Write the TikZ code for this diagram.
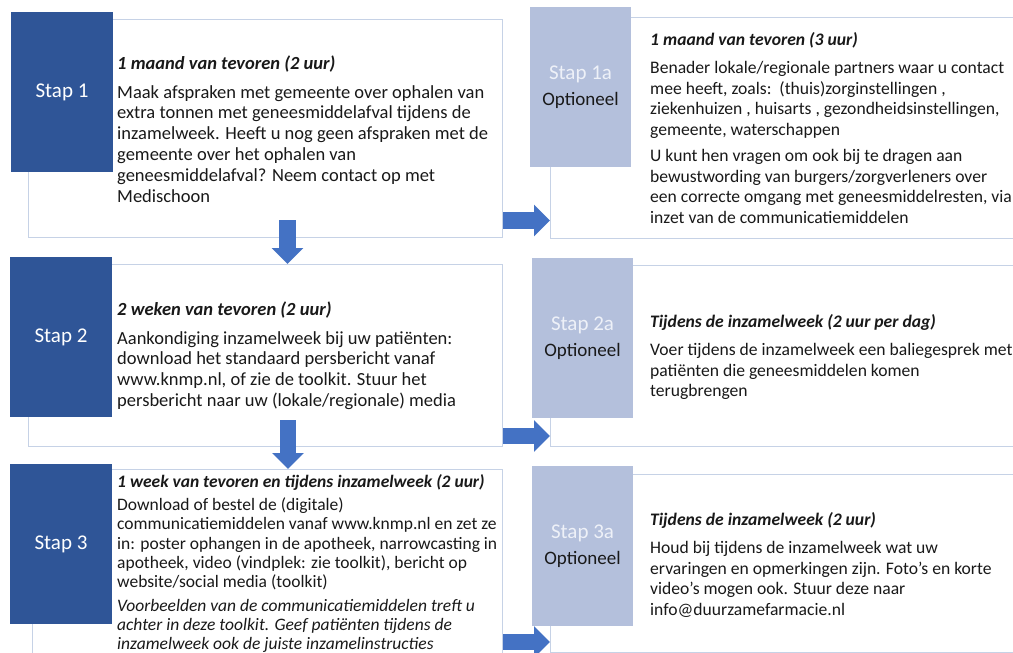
\documentclass[tikz,border=0pt]{standalone}
\usepackage{fontspec}
\setmainfont{Carlito}
\usetikzlibrary{arrows.meta}
\definecolor{darkbox}{RGB}{47,85,151}
\definecolor{lightbox}{RGB}{180,192,220}
\definecolor{boxline}{RGB}{198,210,230}
\definecolor{arrowblue}{RGB}{68,114,196}
\definecolor{txt}{RGB}{25,25,25}
\definecolor{lighttxt}{RGB}{238,241,248}
\tikzset{
  whitebox/.style={draw=boxline, line width=1pt, fill=white, anchor=north west, inner sep=0pt, outer sep=0pt},
  darkstep/.style={fill=darkbox, anchor=north west, inner sep=0pt, outer sep=0pt, minimum width=102pt, minimum height=160pt},
  lightstep/.style={fill=lightbox, anchor=north west, inner sep=0pt, outer sep=0pt, minimum width=101pt, minimum height=160pt},
  steplabel/.style={text=white, font=\fontsize{21}{24}\selectfont, inner sep=0pt},
  optlabel/.style={text=lighttxt, font=\fontsize{21}{24}\selectfont, inner sep=0pt},
  optsub/.style={text=txt, font=\fontsize{19}{22}\selectfont, inner sep=0pt},
  bodytext/.style={anchor=north west, align=left, inner sep=0pt, text=txt, font=\fontsize{18.5}{20.8}\selectfont},
  righttext/.style={bodytext, font=\fontsize{17.6}{20.5}\selectfont},
  blockarrow/.style={draw=arrowblue, line width=16.5pt, -{Triangle[width=31pt,length=16pt]}, arrowblue}
}
\newcommand{\hd}[1]{\rule{0pt}{15pt}\textbf{\textit{#1}}}
\begin{document}
\begin{tikzpicture}[x=1pt,y=-1pt]
\useasboundingbox (0,0) rectangle (1013,653);
\fill[white] (0,0) rectangle (1013,653);
% white boxes
\node[whitebox, minimum width=474pt, minimum height=218pt] (w1) at (28,19) {};
\node[whitebox, minimum width=474pt, minimum height=182pt] (w2) at (28,264) {};
\node[whitebox, minimum width=470pt, minimum height=220pt] (w3) at (32,469) {};
\node[whitebox, minimum width=500pt, minimum height=221pt] (w1a) at (550,17) {};
\node[whitebox, minimum width=500pt, minimum height=181pt] (w2a) at (550,265) {};
\node[whitebox, minimum width=500pt, minimum height=178pt] (w3a) at (550,474) {};
% step boxes
\node[darkstep] (s1) at (11,12) {};
\node[darkstep] (s2) at (10,257) {};
\node[darkstep] (s3) at (10,464) {};
\node[lightstep] (s1a) at (530,7) {};
\node[lightstep] (s2a) at (532,258) {};
\node[lightstep] (s3a) at (532,466) {};
% step labels
\node[steplabel] (l1) at (s1.center) {Stap 1};
\node[steplabel] (l2) at (s2.center) {Stap 2};
\node[steplabel] (l3) at (s3.center) {Stap 3};
\node[optlabel] (l1a) at ([yshift=13pt]s1a.center) {Stap 1a};
\node[optsub] (o1a) at ([yshift=-13pt]s1a.center) {Optioneel};
\node[optlabel] (l2a) at ([yshift=13pt]s2a.center) {Stap 2a};
\node[optsub] (o2a) at ([yshift=-13pt]s2a.center) {Optioneel};
\node[optlabel] (l3a) at ([yshift=13pt]s3a.center) {Stap 3a};
\node[optsub] (o3a) at ([yshift=-13pt]s3a.center) {Optioneel};
% texts (first baseline = y + 15)
\node[bodytext] (t1) at (117,54) {\hd{1 maand van tevoren (2 uur)}\\[8pt]
Maak afspraken met gemeente over ophalen van\\
extra tonnen met geneesmiddelafval tijdens de\\
inzamelweek. Heeft u nog geen afspraken met de\\
gemeente over het ophalen van\\
geneesmiddelafval? Neem contact op met\\
Medischoon};
\node[righttext] (t1a) at (650,30) {\hd{1 maand van tevoren (3 uur)}\\[8pt]
Benader lokale/regionale partners waar u contact\\
mee heeft, zoals:\ \ (thuis)zorginstellingen ,\\
ziekenhuizen , huisarts , gezondheidsinstellingen,\\
gemeente, waterschappen\\[6pt]
U kunt hen vragen om ook bij te dragen aan\\
bewustwording van burgers/zorgverleners over\\
een correcte omgang met geneesmiddelresten, via\\
inzet van de communicatiemiddelen};
\node[bodytext] (t2) at (117,300) {\hd{2 weken van tevoren (2 uur)}\\[8pt]
Aankondiging inzamelweek bij uw patiënten:\\
download het standaard persbericht vanaf\\
www.knmp.nl, of zie de toolkit. Stuur het\\
persbericht naar uw (lokale/regionale) media};
\node[righttext] (t2a) at (650,312) {\hd{Tijdens de inzamelweek (2 uur per dag)}\\[8pt]
Voer tijdens de inzamelweek een baliegesprek met\\
patiënten die geneesmiddelen komen\\
terugbrengen};
\node[bodytext, font=\fontsize{17.5}{19.3}\selectfont] (t3) at (117,472) {\hd{1 week van tevoren en tijdens inzamelweek (2 uur)}\\[4pt]
Download of bestel de (digitale)\\
communicatiemiddelen vanaf www.knmp.nl en zet ze\\
in: poster ophangen in de apotheek, narrowcasting in\\
apotheek, video (vindplek: zie toolkit), bericht op\\
website/social media (toolkit)\\[4pt]
\textit{Voorbeelden van de communicatiemiddelen treft u}\\
\textit{achter in deze toolkit. Geef patiënten tijdens de}\\
\textit{inzamelweek ook de juiste inzamelinstructies}};
\node[righttext] (t3a) at (650,510) {\hd{Tijdens de inzamelweek (2 uur)}\\[8pt]
Houd bij tijdens de inzamelweek wat uw\\
ervaringen en opmerkingen zijn. Foto’s en korte\\
video’s mogen ook. Stuur deze naar\\
info@duurzamefarmacie.nl};
% arrows
\coordinate (d1) at (287.5,220);
\coordinate (d2) at (288,420);
\draw[blockarrow] (d1) -- (d1 |- w2.north);
\draw[blockarrow] (d2) -- (d2 |- w3.north);
\coordinate (r1) at (503,220.5);
\coordinate (r2) at (503,436);
\coordinate (r3) at (503,642);
\draw[blockarrow] (r1) -- (r1 -| w1a.west);
\draw[blockarrow] (r2) -- (r2 -| w2a.west);
\draw[blockarrow] (r3) -- (r3 -| w3a.west);
\end{tikzpicture}
\end{document}
